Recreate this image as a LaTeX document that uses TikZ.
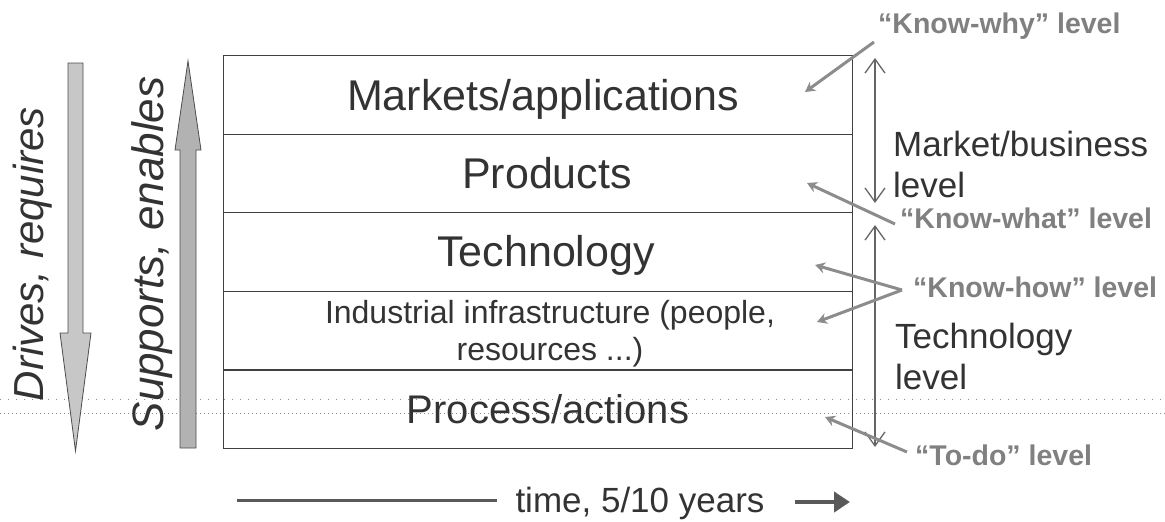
\documentclass[tikz,border=0pt]{standalone}
\usepackage{fontspec}
\setmainfont{Liberation Sans}
\usetikzlibrary{arrows.meta}
\begin{document}
\begin{tikzpicture}[x=1pt,y=-1pt,
  rowbox/.style={draw=black!75, line width=1.2pt, minimum width=629pt, minimum height=78.6pt, inner sep=0pt, anchor=north west},
  bigtxt/.style={text=black!80, inner sep=0pt, anchor=base, font=\fontsize{43}{48}\selectfont},
  sidetxt/.style={text=black!80, inner sep=0pt, anchor=north west, align=left, font=\fontsize{35}{41}\selectfont},
  ktxt/.style={text=black!50, inner sep=0pt, anchor=base west, font=\bfseries\fontsize{28.5}{32}\selectfont},
  vtxt/.style={text=black!80, inner sep=0pt, anchor=base, rotate=90, font=\itshape\fontsize{42}{46}\selectfont},
  karrow/.style={draw=black!45, line width=3pt, -{Stealth[length=10pt,width=11pt]}},
  dblarrow/.style={draw=black!60, line width=1.8pt, {Straight Barb[length=14pt,width=20pt,line width=1.3pt]}-{Straight Barb[length=14pt,width=20pt,line width=1.3pt]}},
  bigarrow/.style={draw=black!70, line width=0.8pt}
]
\useasboundingbox (0,0) rectangle (1165,522);

% dotted guide lines
\draw[black!45, line width=1pt, dash pattern=on 1pt off 7pt] (0,399) -- (1165,399);
\draw[black!45, line width=1pt, dash pattern=on 1pt off 3pt] (0,413) -- (1165,413);

% layers
\node[rowbox] (r1) at (223,55) {};
\node[rowbox] (r2) at (223,133.6) {};
\node[rowbox] (r3) at (223,212.2) {};
\node[rowbox] (r4) at (223,290.8) {};
\node[rowbox] (r5) at (223,369.4) {};

\node[bigtxt] (t1) at (543,110) {Markets/applications};
\node[bigtxt] (t2) at (547,188) {Products};
\node[bigtxt] (t3) at (546,266) {Technology};
\node[text=black!80, inner sep=0pt, anchor=north, align=center, font=\fontsize{32}{37}\selectfont] (t4) at (550,300.6) {Industrial infrastructure (people,\\resources ...)};
\node[bigtxt, font=\fontsize{40}{44}\selectfont] (t5) at (548,423) {Process/actions};

% left arrows
\filldraw[bigarrow, fill=black!22] (68,63) -- (83,63) -- (83,333) -- (91,333) -- (75.5,451) -- (60,333) -- (68,333) -- cycle;
\filldraw[bigarrow, fill=black!30] (180,448) -- (196,448) -- (196,150) -- (201,150) -- (188,61) -- (175,150) -- (180,150) -- cycle;
\node[vtxt] (drv) at (43,254) {Drives, requires};
\node[vtxt, font=\itshape\fontsize{44}{48}\selectfont] (sup) at (163,254) {Supports, enables};

% right side
\node[ktxt] (kwhy) at (878,34) {“Know-why” level};
\node[ktxt] (kwhat) at (900,228) {“Know-what” level};
\node[ktxt] (khow) at (913,297) {“Know-how” level};
\node[ktxt] (ktodo) at (915,465) {“To-do” level};

\node[sidetxt] (mb) at (893,131) {Market/business\\level};
\node[sidetxt] (tl) at (895,323) {Technology\\level};

\coordinate (mbtop) at (875,58);
\coordinate (mbbot) at (875,203);
\coordinate (tltop) at (875,225);
\coordinate (tlbot) at (875,447);
\draw[dblarrow] (mbtop) -- (mbbot);
\draw[dblarrow] (tltop) -- (tlbot);

\coordinate (why0) at (874,42);
\coordinate (why1) at (805,92);
\coordinate (what0) at (895,224);
\coordinate (what1) at (807,183);
\coordinate (how0) at (902,290);
\coordinate (how1) at (815,265);
\coordinate (how2) at (817,322);
\coordinate (todo0) at (907,452);
\coordinate (todo1) at (825,417);
\draw[karrow] (why0) -- (why1);
\draw[karrow] (what0) -- (what1);
\draw[karrow] (how0) -- (how1);
\draw[karrow] (how0) -- (how2);
\draw[karrow] (todo0) -- (todo1);

% time axis
\coordinate (tm0) at (237,500);
\coordinate (tm1) at (497,500);
\draw[black!65, line width=3pt] (tm0) -- (tm1);
\node[text=black!80, inner sep=0pt, anchor=base, font=\fontsize{35}{40}\selectfont] (time) at (640,512) {time, 5/10 years};
\coordinate (ta0) at (795,502);
\coordinate (ta1) at (850,502);
\draw[black!65, line width=4pt, -{Triangle[length=16pt,width=20pt]}] (ta0) -- (ta1);
\end{tikzpicture}
\end{document}
